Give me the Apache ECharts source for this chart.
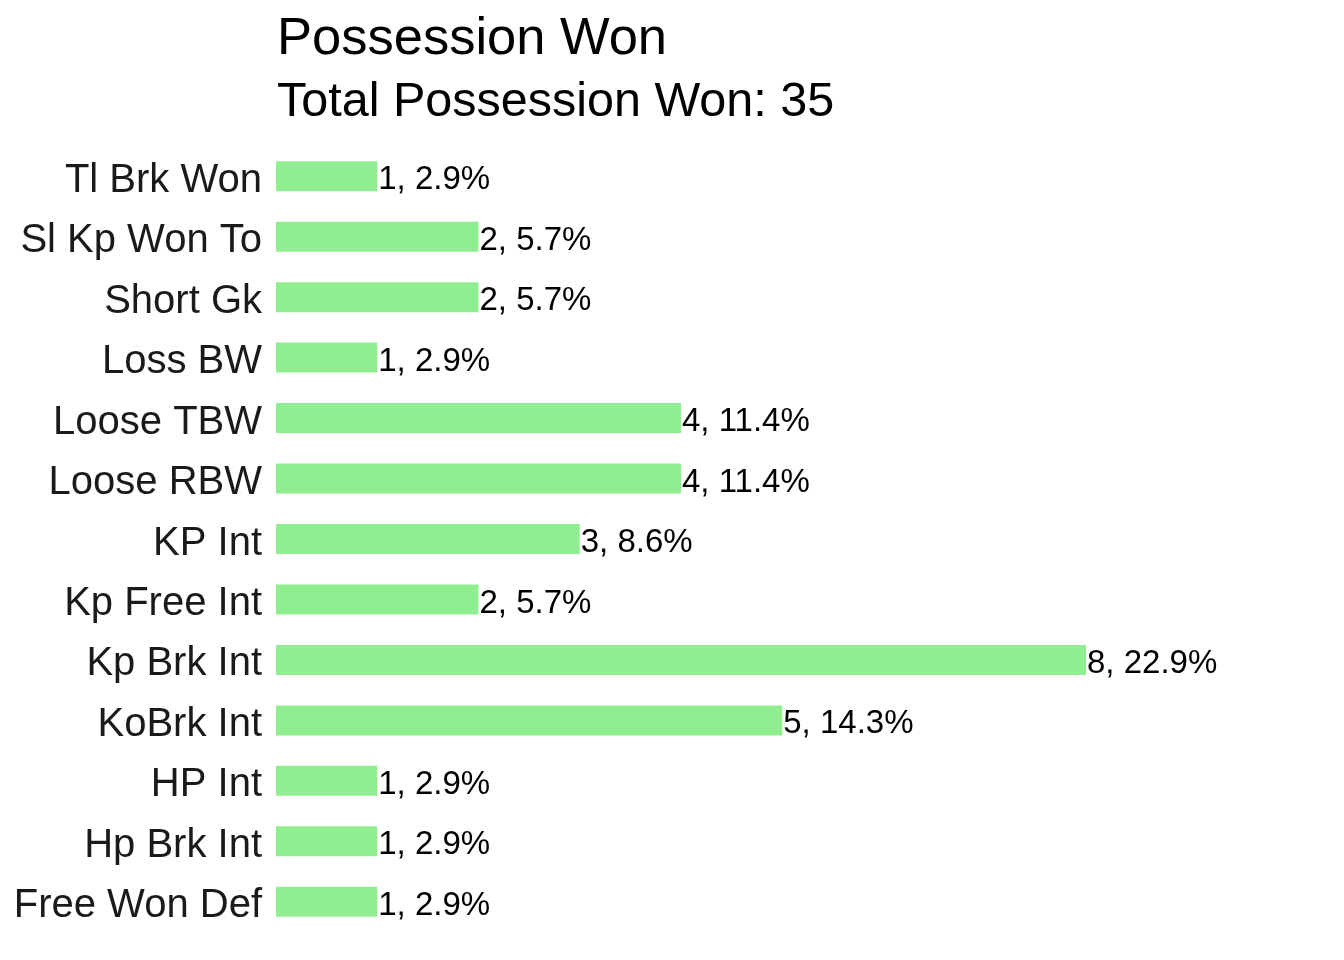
<!DOCTYPE html>
<html>
<head>
<meta charset="utf-8">
<script src="https://cdn.jsdelivr.net/npm/echarts@6/dist/echarts.min.js"></script>
<style>
html,body{margin:0;padding:0;background:#fff;}
#chart{width:1344px;height:960px;}
</style>
</head>
<body>
<div id="chart"></div>
<script>
const categories = ["Tl Brk Won","Sl Kp Won To","Short Gk","Loss BW","Loose TBW","Loose RBW","KP Int","Kp Free Int","Kp Brk Int","KoBrk Int","HP Int","Hp Brk Int","Free Won Def"];
const values = [1,2,2,1,4,4,3,2,8,5,1,1,1];
const total = values.reduce((a,b)=>a+b,0);
const titleText = "Possession Won";
const subtitleText = "Total Possession Won: " + total;

const FONT = '"Liberation Sans", Arial, sans-serif';
const chart = echarts.init(document.getElementById('chart'));
chart.setOption({
  animation: false,
  backgroundColor: '#ffffff',
  title: [
    {text: titleText, left: 277, top: 13, padding: 0,
     textStyle: {fontFamily: FONT, fontSize: 52.5, fontWeight: 'normal', color: '#000'}},
    {text: subtitleText, left: 277, top: 78, padding: 0,
     textStyle: {fontFamily: FONT, fontSize: 48.5, fontWeight: 'normal', color: '#000'}}
  ],
  grid: {left: 276, top: 146, height: 786, width: 1012.5, containLabel: false},
  xAxis: {
    type: 'value', min: 0, max: 10,
    show: false
  },
  yAxis: {
    type: 'category', data: categories, inverse: true,
    axisLine: {show: false}, axisTick: {show: false}, splitLine: {show: false},
    axisLabel: {fontFamily: FONT, fontSize: 40, color: '#1a1a1a', margin: 14,
                verticalAlign: 'top', lineHeight: 9}
  },
  series: [{
    type: 'bar',
    data: values,
    barWidth: 30,
    itemStyle: {color: '#90EE90'},
    label: {
      show: true, position: 'right', distance: 1, offset: [0, 4],
      fontFamily: FONT, fontSize: 33, color: '#000',
      formatter: p => p.value + ', ' + (p.value/total*100).toFixed(1) + '%'
    }
  }]
});
</script>
</body>
</html>
